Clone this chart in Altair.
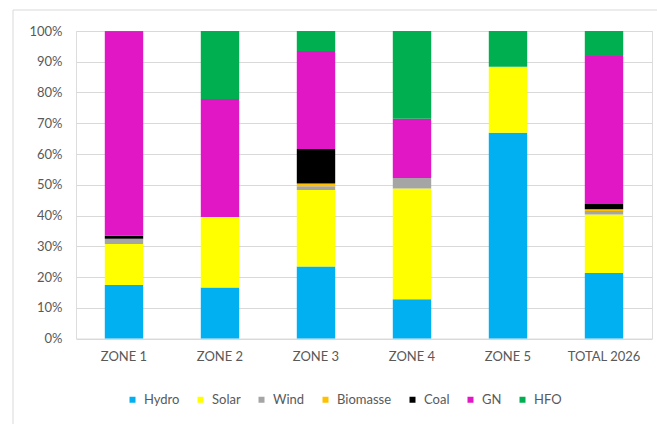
import altair as alt
import pandas as pd

# Generation mix by zone (share of total, %)
zones = ["ZONE 1", "ZONE 2", "ZONE 3", "ZONE 4", "ZONE 5", "TOTAL 2026"]
sources = ["Hydro", "Solar", "Wind", "Biomasse", "Coal", "GN", "HFO"]
colors = ["#00B0F0", "#FFFF00", "#A5A5A5", "#FFC000", "#000000", "#E116C5", "#00B050"]

hydro = [17.4, 16.6, 23.4, 12.8, 66.9, 21.3]
solar = [13.3, 22.9, 24.9, 36.0, 21.5, 19.0]
wind = [1.7, 0.0, 1.2, 3.4, 0.0, 1.2]
biomasse = [0.0, 0.0, 0.9, 0.0, 0.0, 0.5]
coal = [1.0, 0.0, 11.2, 0.0, 0.0, 1.7]
gn = [66.3, 38.4, 31.9, 19.3, 0.0, 48.2]
hfo = [0.3, 22.1, 6.5, 28.5, 11.6, 8.1]

series = [hydro, solar, wind, biomasse, coal, gn, hfo]
rows = []
for k, (name, vals) in enumerate(zip(sources, series)):
    for z, v in zip(zones, vals):
        rows.append({"zone": z, "source": name, "share": v, "rank": k})
df = pd.DataFrame(rows)

FONT = "Lato"
GREY = "#595959"

bars = alt.Chart(df).mark_bar(size=38.4).encode(
    x=alt.X("zone:N", sort=zones, title=None,
            scale=alt.Scale(paddingInner=0.6, paddingOuter=0.3),
            axis=alt.Axis(labelAngle=0, ticks=False, domain=False, labelPadding=12,
                          labelFontSize=13, labelColor=GREY, labelFont=FONT)),
    y=alt.Y("share:Q", stack="normalize", title=None,
            scale=alt.Scale(domain=[0, 1], nice=False),
            axis=alt.Axis(format=".0%", values=[i / 10 for i in range(11)],
                          ticks=False, domain=False, labelPadding=14,
                          labelFontSize=13, labelColor=GREY, labelFont=FONT,
                          grid=True, gridColor="#D9D9D9", gridWidth=1)),
    color=alt.Color("source:N", sort=sources,
                    scale=alt.Scale(domain=sources, range=colors),
                    legend=alt.Legend(title=None, orient="none", direction="horizontal",
                                      legendX=50, legendY=362, symbolType="square",
                                      symbolSize=36, symbolStrokeWidth=0,
                                      labelFontSize=13, labelColor=GREY, labelFont=FONT,
                                      labelOffset=5, columnPadding=14)),
    order=alt.Order("rank:Q", sort="ascending"),
)

# light chart-area frame on the left and top
frame_left = alt.Chart().mark_rule(color="#D9D9D9", strokeWidth=1).encode(
    x=alt.value(-63), y=alt.value(-21), y2=alt.value(400))
frame_top = alt.Chart().mark_rule(color="#D9D9D9", strokeWidth=1).encode(
    x=alt.value(-63), x2=alt.value(600), y=alt.value(-21))

chart = alt.layer(bars, frame_left, frame_top).properties(
    width=576, height=307.5,
    autosize=alt.AutoSizeParams(type="none"),
    padding={"left": 76, "top": 31, "right": 5, "bottom": 85},
).configure_view(stroke=None).configure(background="white")

chart.save("out.html", embed_options={"renderer": "svg", "actions": False})
